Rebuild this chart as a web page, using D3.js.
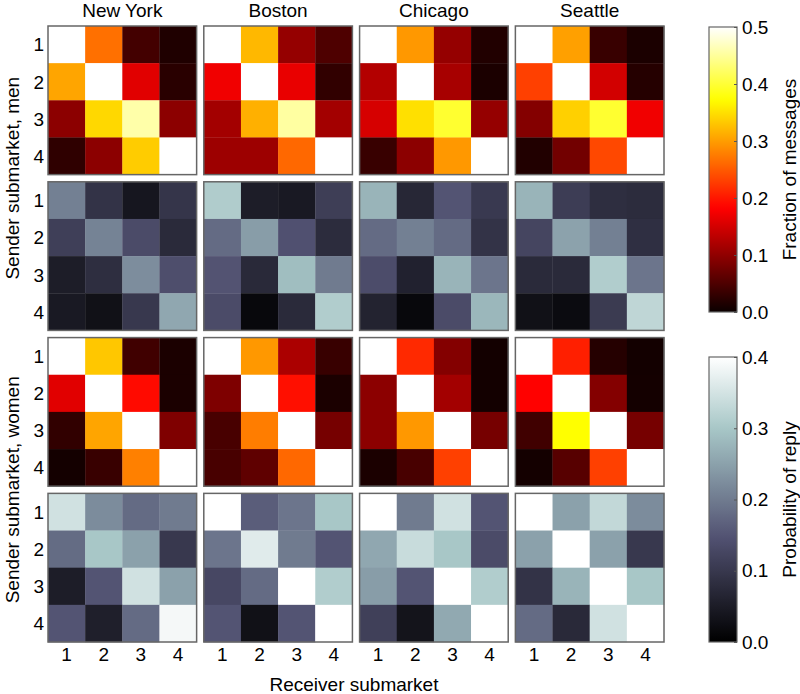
<!DOCTYPE html>
<html>
<head>
<meta charset="utf-8">
<script src="https://cdn.jsdelivr.net/npm/d3@7"></script>
<style>
  html, body { margin: 0; padding: 0; background: #fff; }
  svg { display: block; font-family: "Liberation Sans", Arial, Helvetica, sans-serif; }
</style>
</head>
<body>
<svg id="chart" width="800" height="694"></svg>
<script>
// ---------------- DATA ----------------
const cities = ["New York", "Boston", "Chicago", "Seattle"];
const submarkets = [1, 2, 3, 4];

// rows = sender submarket 1..4, cols = receiver submarket 1..4 (one matrix per city)
const menFraction = [
  [[0.60,0.266,0.042,0.015],[0.306,0.60,0.160,0.023],[0.097,0.344,0.457,0.097],[0.027,0.097,0.335,0.60]],
  [[0.60,0.320,0.103,0.050],[0.172,0.60,0.166,0.029],[0.114,0.314,0.453,0.114],[0.109,0.109,0.260,0.60]],
  [[0.60,0.296,0.103,0.017],[0.126,0.60,0.117,0.012],[0.152,0.350,0.397,0.103],[0.034,0.097,0.296,0.60]],
  [[0.60,0.302,0.034,0.012],[0.230,0.60,0.149,0.020],[0.091,0.338,0.397,0.172],[0.017,0.077,0.236,0.60]]
];
const menReply = [
  [[0.207,0.091,0.040,0.095],[0.113,0.210,0.134,0.075],[0.052,0.082,0.224,0.139],[0.045,0.030,0.100,0.258]],
  [[0.309,0.052,0.045,0.111],[0.179,0.244,0.144,0.078],[0.148,0.073,0.287,0.200],[0.134,0.015,0.075,0.310]],
  [[0.274,0.070,0.149,0.103],[0.179,0.207,0.179,0.092],[0.137,0.060,0.274,0.193],[0.062,0.015,0.134,0.278]],
  [[0.274,0.109,0.082,0.078],[0.124,0.251,0.207,0.085],[0.075,0.075,0.310,0.193],[0.030,0.020,0.105,0.327]]
];
const womenFraction = [
  [[0.60,0.331,0.040,0.012],[0.160,0.60,0.190,0.012],[0.029,0.306,0.60,0.087],[0.007,0.034,0.278,0.60]],
  [[0.60,0.296,0.120,0.034],[0.086,0.60,0.194,0.012],[0.046,0.276,0.60,0.080],[0.046,0.063,0.260,0.60]],
  [[0.60,0.213,0.091,0.006],[0.097,0.60,0.114,0.006],[0.097,0.296,0.60,0.080],[0.012,0.046,0.230,0.60]],
  [[0.60,0.206,0.020,0.006],[0.183,0.60,0.091,0.007],[0.040,0.373,0.60,0.080],[0.007,0.057,0.230,0.60]]
];
const womenReply = [
  [[0.346,0.222,0.179,0.200],[0.180,0.300,0.250,0.100],[0.052,0.149,0.346,0.250],[0.149,0.055,0.179,0.388]],
  [[0.400,0.161,0.193,0.300],[0.193,0.364,0.200,0.149],[0.128,0.179,0.400,0.310],[0.149,0.030,0.149,0.400]],
  [[0.400,0.200,0.346,0.149],[0.258,0.337,0.300,0.134],[0.244,0.149,0.400,0.310],[0.115,0.035,0.260,0.400]],
  [[0.400,0.250,0.330,0.222],[0.250,0.400,0.250,0.100],[0.092,0.274,0.400,0.300],[0.179,0.073,0.346,0.400]]
];
const fractionTicks = [0.0, 0.1, 0.2, 0.3, 0.4, 0.5];
const replyTicks = [0.0, 0.1, 0.2, 0.3, 0.4];

// ---------------- COLORMAPS (matplotlib hot / bone) ----------------
function seg(pts) {
  return d3.scaleLinear().domain(pts.map(p => p[0])).range(pts.map(p => p[1])).clamp(true);
}
const hotR = seg([[0,0.0416],[0.365079,1],[1,1]]);
const hotG = seg([[0,0],[0.365079,0],[0.746032,1],[1,1]]);
const hotB = seg([[0,0],[0.746032,0],[1,1]]);
const boneR = seg([[0,0],[0.746032,0.652778],[1,1]]);
const boneG = seg([[0,0],[0.365079,0.319444],[0.746032,0.777778],[1,1]]);
const boneB = seg([[0,0],[0.365079,0.444444],[1,1]]);
function rgb(r,g,b){ return d3.rgb(r*255,g*255,b*255).formatHex(); }
const hot = t => rgb(hotR(t), hotG(t), hotB(t));
const bone = t => rgb(boneR(t), boneG(t), boneB(t));

const fracNorm = d3.scaleLinear().domain([0, 0.5]).range([0, 1]).clamp(true);
const replyNorm = d3.scaleLinear().domain([0, 0.4]).range([0, 1]).clamp(true);
const fracColor = v => hot(fracNorm(v));
const replyColor = v => bone(replyNorm(v));

// ---------------- LAYOUT ----------------
const svg = d3.select("#chart");
const font = 19;
const panelX = d3.scaleBand().domain(d3.range(4)).range([48, 664]).paddingInner(0.046);
const panelY = d3.scaleBand().domain(d3.range(4)).range([26, 642]).paddingInner(0.046);
const cell = d3.scaleBand().domain(d3.range(4)).range([0, panelX.bandwidth()]);
const cellY = d3.scaleBand().domain(d3.range(4)).range([0, panelY.bandwidth()]);

const rowsData = [
  { data: menFraction, color: fracColor },
  { data: menReply, color: replyColor },
  { data: womenFraction, color: fracColor },
  { data: womenReply, color: replyColor }
];

rowsData.forEach((row, ri) => {
  cities.forEach((city, ci) => {
    const g = svg.append("g")
      .attr("transform", `translate(${panelX(ci)},${panelY(ri)})`);
    const cells = [];
    row.data[ci].forEach((r, i) => r.forEach((v, j) => cells.push({ i, j, v })));
    g.selectAll("rect.cell").data(cells).enter().append("rect")
      .attr("class", "cell")
      .attr("x", d => cell(d.j))
      .attr("y", d => cellY(d.i))
      .attr("width", cell.bandwidth() + 0.3)
      .attr("height", cellY.bandwidth() + 0.3)
      .attr("fill", d => row.color(d.v));
    g.append("rect")
      .attr("width", panelX.bandwidth())
      .attr("height", panelY.bandwidth())
      .attr("fill", "none")
      .attr("stroke", "#666")
      .attr("stroke-width", 1.5);
  });
  // row tick labels (left)
  svg.append("g").selectAll("text").data(submarkets).enter().append("text")
    .attr("x", 44)
    .attr("y", (d, i) => panelY(ri) + cellY(i) + cellY.bandwidth() / 2)
    .attr("dy", "0.36em")
    .attr("text-anchor", "end")
    .attr("font-size", font)
    .text(d => d);
});

// column titles
svg.append("g").selectAll("text").data(cities).enter().append("text")
  .attr("x", (d, i) => panelX(i) + panelX.bandwidth() / 2)
  .attr("y", 17)
  .attr("text-anchor", "middle")
  .attr("font-size", font)
  .text(d => d);

// bottom tick labels
cities.forEach((c, ci) => {
  svg.append("g").selectAll("text").data(submarkets).enter().append("text")
    .attr("x", (d, j) => panelX(ci) + cell(j) + cell.bandwidth() / 2)
    .attr("y", 661)
    .attr("text-anchor", "middle")
    .attr("font-size", font)
    .text(d => d);
});

// axis titles
svg.append("text")
  .attr("x", 354).attr("y", 691)
  .attr("text-anchor", "middle").attr("font-size", font)
  .text("Receiver submarket");
svg.append("text")
  .attr("transform", `translate(19,${(panelY(0) + panelY(1) + panelY.bandwidth()) / 2}) rotate(-90)`)
  .attr("text-anchor", "middle").attr("font-size", font)
  .text("Sender submarket, men");
svg.append("text")
  .attr("transform", `translate(19,${(panelY(2) + panelY(3) + panelY.bandwidth()) / 2}) rotate(-90)`)
  .attr("text-anchor", "middle").attr("font-size", font)
  .text("Sender submarket, women");

// ---------------- COLORBARS ----------------
const defs = svg.append("defs");
function colorbar(id, cmap, maxV, ticks, y0, y1, label) {
  const x0 = 709, x1 = 737;
  const grad = defs.append("linearGradient").attr("id", id)
    .attr("x1", 0).attr("y1", 1).attr("x2", 0).attr("y2", 0);
  d3.range(0, 1.0001, 0.02).forEach(t => {
    grad.append("stop").attr("offset", t).attr("stop-color", cmap(t));
  });
  svg.append("rect")
    .attr("x", x0).attr("y", y0).attr("width", x1 - x0).attr("height", y1 - y0)
    .attr("fill", `url(#${id})`)
    .attr("stroke", "#666").attr("stroke-width", 1.2);
  const scale = d3.scaleLinear().domain([0, maxV]).range([y1, y0]);
  const axis = d3.axisRight(scale).tickValues(ticks).tickFormat(d3.format(".1f"))
    .tickSize(-3).tickPadding(5);
  const ag = svg.append("g").attr("transform", `translate(${x1},0)`).call(axis);
  ag.select(".domain").remove();
  ag.selectAll(".tick line").attr("stroke", "#555");
  ag.selectAll(".tick text")
    .attr("font-size", font)
    .attr("font-family", '"Liberation Sans", Arial, Helvetica, sans-serif')
    .attr("fill", "#000");
  svg.append("text")
    .attr("transform", `translate(796,${(y0 + y1) / 2}) rotate(-90)`)
    .attr("text-anchor", "middle").attr("font-size", font)
    .text(label);
}
colorbar("gradHot", hot, 0.5, fractionTicks, 27, 312, "Fraction of messages");
colorbar("gradBone", bone, 0.4, replyTicks, 357, 642, "Probability of reply");
</script>
</body>
</html>
